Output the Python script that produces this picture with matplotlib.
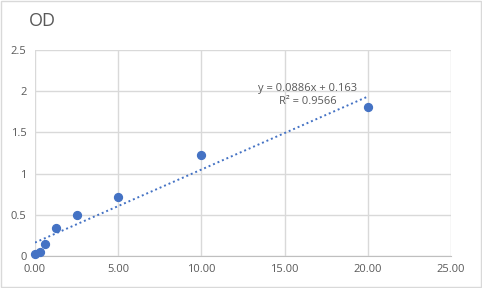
import numpy as np
import matplotlib.pyplot as plt
from matplotlib.patches import Rectangle

# Datos de la curva de calibración
concentracion = [0, 0.3125, 0.625, 1.25, 2.5, 5, 10, 20]
od = [0.02, 0.045, 0.14, 0.34, 0.50, 0.72, 1.22, 1.81]
pendiente = 0.0886
intercepto = 0.163
r2 = 0.9566

x_ticks = [0, 5, 10, 15, 20, 25]
y_ticks = [0, 0.5, 1, 1.5, 2, 2.5]

plt.rcParams['font.family'] = ['Open Sans', 'DejaVu Sans']

fig = plt.figure(figsize=(4.82, 2.88), dpi=100)
ax = fig.add_axes([35 / 482, 1 - 256 / 288, 416 / 482, 206 / 288])

gris_texto = '#595959'
azul = '#4472C4'

ax.set_xlim(0, 25)
ax.set_ylim(0, 2.5)
ax.set_xticks(x_ticks)
ax.set_yticks(y_ticks)
ax.set_xticklabels([f'{v:.2f}' for v in x_ticks])
ax.set_yticklabels(['0', '0.5', '1', '1.5', '2', '2.5'])
ax.tick_params(length=0, labelsize=8, colors=gris_texto, pad=6)
ax.grid(True, color='#d9d9d9', linewidth=1)
ax.set_axisbelow(True)
for lado in ['top', 'right', 'left']:
    ax.spines[lado].set_visible(False)
ax.spines['bottom'].set_color('#bfbfbf')

# Línea de tendencia
xt = np.array([0, 20])
ax.plot(xt, pendiente * xt + intercepto, linestyle=(0, (1, 1.5)), color=azul, linewidth=1.4)

ax.scatter(concentracion, od, s=32, color=azul, zorder=3, clip_on=False)

ax.text(16.4, 2.03, f'y = {pendiente}x + {intercepto}', fontsize=8, color=gris_texto, ha='center', va='center')
ax.text(16.4, 1.87, f'R² = {r2}', fontsize=8, color=gris_texto, ha='center', va='center')

fig.text(29 / 482, 1 - 21 / 288, 'OD', fontsize=13, color=gris_texto, va='center', ha='left')

fig.patches.append(Rectangle((0.002, 0.003), 0.996, 0.994, transform=fig.transFigure,
                             fill=False, edgecolor='#d9d9d9', linewidth=1))

fig.savefig('out.png', dpi=100, facecolor='white')
